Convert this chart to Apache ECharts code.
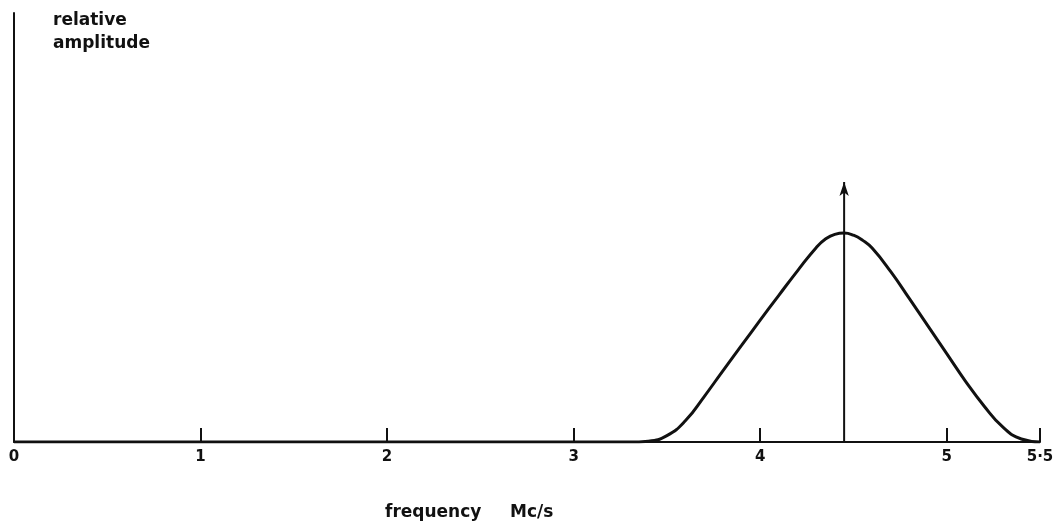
<!DOCTYPE html>
<html>
<head>
<meta charset="utf-8">
<script src="https://cdn.jsdelivr.net/npm/echarts@6/dist/echarts.min.js"></script>
<style>
html,body{margin:0;padding:0;background:#fff;}
#chart{width:1062px;height:529px;}
</style>
</head>
<body>
<div id="chart"></div>
<script>
// Data
const freq = [0, 1.0, 2.0, 3.0, 3.1, 3.2, 3.3, 3.4, 3.5, 3.6, 3.7, 3.8, 3.9, 4.0, 4.1, 4.2, 4.3, 4.35, 4.4, 4.45, 4.5, 4.55, 4.6, 4.7, 4.8, 4.9, 5.0, 5.1, 5.2, 5.3, 5.4, 5.5];
const amplitude = [0, 0, 0, 0, 0, 0, 0, 0.002, 0.015, 0.050, 0.106, 0.166, 0.225, 0.284, 0.342, 0.399, 0.453, 0.473, 0.484, 0.487, 0.482, 0.470, 0.452, 0.397, 0.334, 0.270, 0.206, 0.142, 0.084, 0.035, 0.007, 0];
const carrierFreq = 4.45;
const carrierArrow = [0, 0.606];
const tickValues = [0, 1, 2, 3, 4, 5, 5.5];
const tickLabels = ['0', '1', '2', '3', '4', '5', '5·5'];
const yTitle = 'relative\namplitude';
const xTitleWord = 'frequency';
const xTitleUnit = 'Mc/s';

const chart = echarts.init(document.getElementById('chart'));
const ink = '#111';
const font = '"DejaVu Sans", sans-serif';
chart.setOption({
  animation: false,
  backgroundColor: '#fff',
  grid: {left: 14, right: 22, top: 13, bottom: 87, containLabel: false},
  xAxis: {
    type: 'value', min: 0, max: 5.5,
    axisLine: {show: true, onZero: false, lineStyle: {color: ink, width: 2}},
    axisTick: {show: true, inside: true, length: 14, customValues: tickValues.slice(1), lineStyle: {color: ink, width: 2}},
    axisLabel: {
      show: true, margin: 8, customValues: tickValues,
      fontFamily: font, fontSize: 15, fontWeight: 'bold', color: ink,
      formatter: function (v) { const i = tickValues.indexOf(v); return i >= 0 ? tickLabels[i] : ''; }
    },
    splitLine: {show: false}
  },
  yAxis: {
    type: 'value', min: 0, max: 1,
    axisLine: {show: true, lineStyle: {color: ink, width: 2}},
    axisTick: {show: false}, axisLabel: {show: false}, splitLine: {show: false}
  },
  graphic: [
    {type: 'text', left: 53, top: 9, style: {text: yTitle, font: 'bold 17px ' + font, fill: ink, lineHeight: 23}},
    {type: 'text', left: 385, top: 504, style: {text: xTitleWord, font: 'bold 17px ' + font, fill: ink}},
    {type: 'text', left: 510, top: 504, style: {text: xTitleUnit, font: 'bold 17px ' + font, fill: ink}}
  ],
  series: [
    {
      type: 'line', smooth: 0.5, showSymbol: false,
      data: freq.map((f, i) => [f, amplitude[i]]),
      lineStyle: {color: ink, width: 3}
    },
    {
      type: 'line', showSymbol: true,
      data: carrierArrow.map(a => [carrierFreq, a]),
      symbol: function (v, p) { return p.dataIndex === 1 ? 'arrow' : 'none'; },
      symbolSize: [7, 14],
      itemStyle: {color: ink},
      lineStyle: {color: ink, width: 2}
    }
  ]
});
</script>
</body>
</html>
